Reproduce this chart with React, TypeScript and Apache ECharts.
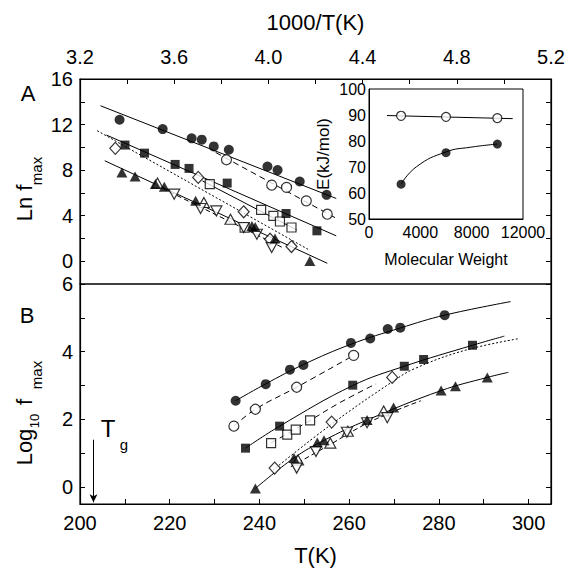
import React, { useEffect, useRef } from 'react';
import * as echarts from 'echarts';

// ---------- tick labels ----------
const topXLabels = [3.2, 3.6, 4.0, 4.4, 4.8, 5.2];
const topXTicks = [3.2, 3.4, 3.6, 3.8, 4.0, 4.2, 4.4, 4.6, 4.8, 5.0, 5.2];
const topYLabels = [0, 4, 8, 12, 16];
const topYTicks = [0, 2, 4, 6, 8, 10, 12, 14, 16];
const botXLabels = [200, 220, 240, 260, 280, 300];
const botXTicks = [200, 210, 220, 230, 240, 250, 260, 270, 280, 290, 300];
const botYLabels = [0, 2, 4, 6];
const botYTicks = [0, 1, 2, 3, 4, 5, 6];
const insetXLabels = [0, 4000, 8000, 12000];
const insetYLabels = [50, 60, 70, 80, 90, 100];

// ---------- panel A: Ln f_max vs 1000/T ----------
const aFilledCircle = [[3.368, 12.42], [3.551, 11.6], [3.674, 10.79], [3.717, 10.67], [3.768, 10.08], [3.832, 9.79], [3.996, 8.32], [4.039, 8.0], [4.133, 7.0], [4.247, 5.83]];
const aOpenCircle = [[3.822, 8.91], [4.014, 6.68], [4.077, 6.48], [4.161, 5.3], [4.25, 4.13]];
const aFilledSquare = [[3.391, 10.2], [3.474, 9.49], [3.604, 8.5], [3.663, 8.15], [3.825, 6.86], [4.075, 4.19], [4.206, 2.67]];
const aOpenSquare = [[3.751, 6.77], [3.969, 4.51], [4.021, 3.98], [4.049, 3.49], [4.098, 2.96], [3.899, 2.95]];
const aDiamond = [[3.35, 9.91], [3.702, 7.36], [3.895, 4.34], [4.007, 1.93], [4.098, 1.29]];
const aFilledTri = [[3.378, 7.8], [3.434, 7.44], [3.52, 6.77], [3.558, 6.53], [3.691, 5.3], [3.93, 3.1], [3.944, 3.0], [4.028, 2.0], [4.176, 0.03]];
const aOpenUpTri = [[3.529, 6.86], [3.726, 5.16], [3.839, 3.69]];
const aOpenDownTri = [[3.6, 5.89], [3.712, 4.63], [3.779, 4.42], [3.895, 2.96], [3.951, 2.37], [4.014, 1.2]];

const aFitFilledCircle = [[3.287, 13.65], [4.288, 5.51]];
const aFitOpenCircle = [[3.776, 9.55], [4.295, 3.69]];
const aFitFilledSquare = [[3.312, 11.08], [4.288, 2.23]];
const aFitOpenSquare = [[3.72, 7.05], [4.12, 2.75]];
const aFitDiamond = [[3.273, 11.46], [4.168, 1.05]];
const aFitFilledTri = [[3.305, 8.82], [4.25, -0.18]];
const aFitOpenTri = [[3.55, 6.4], [4.06, 1.2]];

// ---------- panel B: Log10 f_max vs T ----------
const bFilledCircle = [[234.7, 2.55], [241.4, 3.04], [246.8, 3.47], [249.8, 3.61], [260.4, 4.26], [264.7, 4.39], [268.6, 4.67], [271.4, 4.71], [281.3, 5.08]];
const bOpenCircle = [[234.3, 1.8], [239.1, 2.3], [248.3, 2.95], [261, 3.89]];
const bFilledSquare = [[236.9, 1.15], [244.5, 1.8], [260.8, 3.01], [272.3, 3.57], [276.6, 3.77], [287.5, 4.19]];
const bOpenSquare = [[242.6, 1.3], [246.2, 1.55], [248.1, 1.7], [251.3, 1.97]];
const bDiamond = [[243.4, 0.56], [256.1, 1.92], [269.6, 3.24]];
const bFilledTri = [[239.1, -0.04], [247.7, 0.86], [252.9, 1.32], [254.4, 1.38], [264, 1.98], [269.9, 2.35], [280.5, 2.85], [283.7, 2.98], [290.8, 3.24]];
const bOpenUpTri = [[248.6, 0.8], [255.8, 1.3], [259.7, 1.65], [267.7, 2.25]];
const bOpenDownTri = [[248.3, 0.56], [252.6, 1.05], [259.5, 1.62], [264, 1.9], [268.5, 2.05]];

const bFitFilledCircle = [[234.7, 2.55], [241.4, 3.05], [249.8, 3.62], [260.4, 4.22], [271.4, 4.7], [281.3, 5.08], [296, 5.48]];
const bFitOpenCircle = [[234.3, 1.8], [239.1, 2.3], [248.3, 2.95], [261, 3.89]];
const bFitFilledSquare = [[236.9, 1.15], [244.5, 1.8], [260.8, 3.0], [272.3, 3.57], [287.5, 4.19], [294.6, 4.46]];
const bFitOpenSquare = [[242.6, 1.3], [251.3, 1.97], [258, 2.5], [266, 3.05]];
const bFitDiamond = [[243, 0.5], [256, 1.85], [269.5, 3.1], [274.6, 3.5], [285.8, 4.04], [298, 4.39]];
const bFitFilledTri = [[239.1, -0.04], [247.7, 0.86], [254.4, 1.38], [264, 1.98], [280.5, 2.85], [290.8, 3.24], [295.5, 3.39]];
const bFitOpenTri = [[247, 0.6], [255, 1.2], [265, 1.95], [276, 2.55]];
const tgArrow = [[203, 1.4], [203, -0.45]];

// ---------- inset: E vs molecular weight ----------
const insetMW = [2500, 6000, 10000];
const insetEOpen = [89.7, 89.3, 88.8];
const insetEFilled = [63.4, 75.5, 78.8];
const insetFitOpen = [[1400, 89.8], [11200, 88.6]];
const insetFitFilled = [[2500, 63.4], [3700, 70.1], [6000, 75.8], [7900, 77.6], [10000, 78.8]];

const FONT = '"Liberation Sans", Arial, Helvetica, sans-serif';
const DOWN_TRI = 'path://M0,0L10,0L5,9Z';

function scatter(data: number[][], symbol: string, filled: boolean, xi: number, yi: number, size: any) {
  return {
    type: 'scatter', xAxisIndex: xi, yAxisIndex: yi, data, symbol, symbolSize: size, z: 5, silent: true,
    itemStyle: filled ? { color: '#000' } : { color: '#fff', borderColor: '#000', borderWidth: 1.2 },
  };
}
function fit(data: number[][], dash: any, xi: number, yi: number, smooth: any = false) {
  return {
    type: 'line', xAxisIndex: xi, yAxisIndex: yi, data, symbol: 'none', smooth, z: 3, silent: true,
    lineStyle: { color: '#000', width: 1, type: dash },
  };
}

export default function App() {
  const ref = useRef<HTMLDivElement>(null);
  useEffect(() => {
    if (!ref.current) return;
    const chart = echarts.init(ref.current, null, { renderer: 'svg' });
    const axisLineStyle = { onZero: false, lineStyle: { color: '#000', width: 1.2 } };
    const labelStyle = { color: '#000', fontFamily: FONT, fontSize: 20 };
    const tri = scatter(bFilledTri, 'triangle', true, 1, 2, [11, 10]) as any;
    tri.markLine = {
      silent: true, symbol: ['none', 'arrow'], symbolSize: [6, 8], label: { show: false },
      lineStyle: { color: '#000', type: 'solid', width: 1 },
      data: [[{ coord: tgArrow[0] }, { coord: tgArrow[1] }]],
    };
    const option: any = {
      animation: false,
      backgroundColor: '#fff',
      textStyle: { fontFamily: FONT },
      grid: [
        { left: 80, top: 79, width: 471, height: 205, show: true, borderColor: '#000', borderWidth: 1.2, containLabel: false },
        { left: 80, top: 284, width: 471, height: 220, show: true, borderColor: '#000', borderWidth: 1.2, containLabel: false },
        { left: 369, top: 89, width: 154, height: 130, show: true, borderColor: '#000', borderWidth: 1, containLabel: false },
      ],
      xAxis: [
        {
          type: 'value', gridIndex: 0, position: 'top', min: 3.2, max: 5.2,
          name: '1000/T(K)', nameLocation: 'middle', nameGap: 46,
          nameTextStyle: { color: '#000', fontFamily: FONT, fontSize: 22 },
          axisLine: axisLineStyle, splitLine: { show: false },
          axisTick: { inside: true, length: 5, customValues: topXTicks, lineStyle: { color: '#000' } },
          axisLabel: { ...labelStyle, margin: 12, customValues: topXLabels, formatter: (v: number) => v.toFixed(1) },
        },
        {
          type: 'value', gridIndex: 1, position: 'bottom', min: 200, max: 305,
          name: 'T(K)', nameLocation: 'middle', nameGap: 40,
          nameTextStyle: { color: '#000', fontFamily: FONT, fontSize: 22 },
          axisLine: axisLineStyle, splitLine: { show: false },
          axisTick: { inside: true, length: 5, customValues: botXTicks, lineStyle: { color: '#000' } },
          axisLabel: { ...labelStyle, margin: 9, customValues: botXLabels },
        },
        {
          type: 'value', gridIndex: 2, min: 0, max: 12000,
          name: 'Molecular Weight', nameLocation: 'middle', nameGap: 32,
          nameTextStyle: { color: '#000', fontFamily: FONT, fontSize: 16 },
          axisLine: { onZero: false, lineStyle: { color: '#000', width: 1 } }, splitLine: { show: false },
          axisTick: { show: false },
          axisLabel: { color: '#000', fontFamily: FONT, fontSize: 16, margin: 5, customValues: insetXLabels, formatter: (v: number) => String(v) },
        },
      ],
      yAxis: [
        {
          type: 'value', gridIndex: 0, min: -2, max: 16,
          axisLine: axisLineStyle, splitLine: { show: false },
          axisTick: { inside: true, length: 5, customValues: topYTicks, lineStyle: { color: '#000' } },
          axisLabel: { ...labelStyle, margin: 7, customValues: topYLabels },
        },
        {
          type: 'value', gridIndex: 0, position: 'right', min: -2, max: 16,
          axisLine: axisLineStyle, splitLine: { show: false },
          axisTick: { inside: true, length: 5, customValues: topYTicks, lineStyle: { color: '#000' } },
          axisLabel: { show: false },
        },
        {
          type: 'value', gridIndex: 1, min: -0.5, max: 6,
          axisLine: axisLineStyle, splitLine: { show: false },
          axisTick: { inside: true, length: 5, customValues: botYTicks, lineStyle: { color: '#000' } },
          axisLabel: { ...labelStyle, margin: 7, customValues: botYLabels },
        },
        {
          type: 'value', gridIndex: 1, position: 'right', min: -0.5, max: 6,
          axisLine: axisLineStyle, splitLine: { show: false },
          axisTick: { inside: true, length: 5, customValues: botYTicks, lineStyle: { color: '#000' } },
          axisLabel: { show: false },
        },
        {
          type: 'value', gridIndex: 2, min: 50, max: 100,
          name: 'E(kJ/mol)', nameLocation: 'middle', nameGap: 37, nameRotate: 90,
          nameTextStyle: { color: '#000', fontFamily: FONT, fontSize: 17 },
          axisLine: { onZero: false, lineStyle: { color: '#000', width: 1 } }, splitLine: { show: false },
          axisTick: { show: false },
          axisLabel: { color: '#000', fontFamily: FONT, fontSize: 16, margin: 3, customValues: insetYLabels },
        },
      ],
      series: [
        // panel A fits
        fit(aFitFilledCircle, 'solid', 0, 0),
        fit(aFitOpenCircle, [6, 4], 0, 0),
        fit(aFitFilledSquare, 'solid', 0, 0),
        fit(aFitOpenSquare, 'solid', 0, 0),
        fit(aFitDiamond, [2, 2], 0, 0),
        fit(aFitFilledTri, 'solid', 0, 0),
        fit(aFitOpenTri, [5, 3], 0, 0),
        // panel A points
        scatter(aOpenSquare, 'rect', false, 0, 0, 9),
        scatter(aDiamond, 'diamond', false, 0, 0, [11, 12]),
        scatter(aOpenUpTri, 'triangle', false, 0, 0, [11, 10]),
        scatter(aOpenDownTri, DOWN_TRI, false, 0, 0, [11, 10]),
        scatter(aOpenCircle, 'circle', false, 0, 0, 10),
        scatter(aFilledCircle, 'circle', true, 0, 0, 10),
        scatter(aFilledSquare, 'rect', true, 0, 0, 9),
        scatter(aFilledTri, 'triangle', true, 0, 0, [11, 10]),
        // panel B fits
        fit(bFitFilledCircle, 'solid', 1, 2, 0.4),
        fit(bFitOpenCircle, [6, 4], 1, 2, 0.4),
        fit(bFitFilledSquare, 'solid', 1, 2, 0.4),
        fit(bFitOpenSquare, [6, 4], 1, 2, 0.4),
        fit(bFitDiamond, [2, 2], 1, 2, 0.4),
        fit(bFitFilledTri, 'solid', 1, 2, 0.4),
        fit(bFitOpenTri, [5, 3], 1, 2, 0.4),
        // panel B points
        scatter(bOpenSquare, 'rect', false, 1, 2, 9),
        scatter(bDiamond, 'diamond', false, 1, 2, [11, 12]),
        scatter(bOpenUpTri, 'triangle', false, 1, 2, [11, 10]),
        scatter(bOpenDownTri, DOWN_TRI, false, 1, 2, [11, 10]),
        scatter(bOpenCircle, 'circle', false, 1, 2, 10),
        scatter(bFilledCircle, 'circle', true, 1, 2, 10),
        scatter(bFilledSquare, 'rect', true, 1, 2, 9),
        tri,
        // inset
        fit(insetFitOpen, 'solid', 2, 4),
        fit(insetFitFilled, 'solid', 2, 4, 0.5),
        scatter(insetMW.map((m, i) => [m, insetEOpen[i]]), 'circle', false, 2, 4, 9),
        scatter(insetMW.map((m, i) => [m, insetEFilled[i]]), 'circle', true, 2, 4, 9),
      ],
      graphic: [
        { type: 'text', x: 28, y: 93, style: { text: 'A', font: `22px ${FONT}`, fill: '#000', align: 'center', verticalAlign: 'middle' } },
        { type: 'text', x: 27, y: 315, style: { text: 'B', font: `22px ${FONT}`, fill: '#000', align: 'center', verticalAlign: 'middle' } },
        { type: 'text', x: 24, y: 203, rotation: Math.PI / 2, style: { text: 'Ln f', font: `22px ${FONT}`, fill: '#000', align: 'center', verticalAlign: 'middle' } },
        { type: 'text', x: 36, y: 171, rotation: Math.PI / 2, style: { text: 'max', font: `15px ${FONT}`, fill: '#000', align: 'center', verticalAlign: 'middle' } },
        { type: 'text', x: 24, y: 447, rotation: Math.PI / 2, style: { text: 'Log', font: `22px ${FONT}`, fill: '#000', align: 'center', verticalAlign: 'middle' } },
        { type: 'text', x: 34, y: 421, rotation: Math.PI / 2, style: { text: '10', font: `13px ${FONT}`, fill: '#000', align: 'center', verticalAlign: 'middle' } },
        { type: 'text', x: 24, y: 402, rotation: Math.PI / 2, style: { text: 'f', font: `22px ${FONT}`, fill: '#000', align: 'center', verticalAlign: 'middle' } },
        { type: 'text', x: 36, y: 375, rotation: Math.PI / 2, style: { text: 'max', font: `15px ${FONT}`, fill: '#000', align: 'center', verticalAlign: 'middle' } },
        { type: 'text', x: 108, y: 428, style: { text: 'T', font: `24px ${FONT}`, fill: '#000', align: 'center', verticalAlign: 'middle' } },
        { type: 'text', x: 124, y: 444, style: { text: 'g', font: `15px ${FONT}`, fill: '#000', align: 'center', verticalAlign: 'middle' } },
      ],
    };
    chart.setOption(option);
    return () => chart.dispose();
  }, []);
  return <div ref={ref} style={{ position: 'fixed', left: 0, top: 0, width: 569, height: 573, background: '#fff' }} />;
}
